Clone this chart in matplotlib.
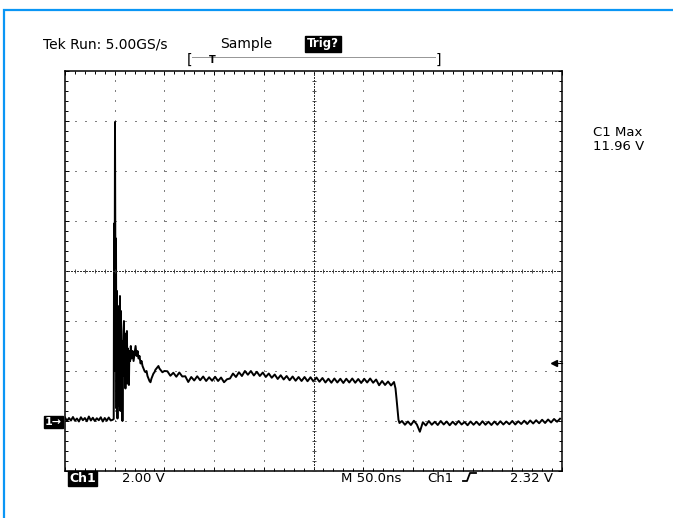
import matplotlib
matplotlib.use("Agg")
import matplotlib.pyplot as plt
import matplotlib.patches as mpatches
from matplotlib.lines import Line2D
from matplotlib.ticker import MultipleLocator
import matplotlib.transforms as mtrans

# scope settings
ns_per_div = 50.0
volts_per_div = 2.00
trig_level = 2.32
c1_max = 11.96

# trace (time in ns, volts)
t_pre = [0, 2, 4, 6, 8, 10, 12, 14, 16, 18, 20, 22, 24, 26, 28, 30, 32, 34, 36, 38, 40, 42, 44, 46, 48]
v_pre = [0.14, 0.00, 0.12, 0.02, 0.16, 0.01, 0.10, -0.02, 0.15, 0.03, 0.12, -0.01, 0.18,
         0.02, 0.13, 0.00, 0.11, 0.03, 0.15, -0.02, 0.12, 0.01, 0.14, 0.02, 0.05]

t_ring = [49.0, 49.4, 49.8, 50.3, 50.8, 51.3, 51.8, 52.3, 52.8, 53.3, 53.8, 54.3, 54.8, 55.3,
          55.8, 56.3, 56.8, 57.3, 57.8, 58.3, 58.8, 59.3, 59.8, 60.3, 60.8, 61.3, 61.8, 62.3,
          62.8, 63.3, 63.8, 64.3, 64.8, 65.5, 66.2, 67.0, 68, 69, 70, 71, 72, 73, 74, 75, 76,
          77, 78, 79, 80, 81, 82, 83, 84, 85, 86, 87, 88, 89, 90, 91, 92, 93, 94, 95, 96, 98, 100]
v_ring = [0.08, 7.9, 2.0, 11.96, 4.5, 7.3, 0.5, 5.2, 0.1, 4.6, 0.6, 4.0, 1.0, 5.0,
          0.4, 4.4, 1.2, 3.2, 0.0, 2.6, 3.6, 4.0, 1.8, 3.2, 1.3, 3.5, 2.0, 3.6,
          1.5, 2.9, 1.8, 1.44, 2.8, 2.4, 3.0, 2.5, 2.8, 2.4, 2.7, 3.0, 2.6, 2.8, 2.5, 2.6, 2.3,
          2.4, 2.2, 2.1, 2.0, 1.95, 2.0, 1.8, 1.7, 1.6, 1.55, 1.7, 1.8, 1.9, 1.95, 2.05, 2.1, 2.15, 2.2, 2.1, 2.05, 1.95, 2.0]

t_plat = [103, 106, 109, 112, 115, 118, 121, 124, 127, 130, 133, 136, 139, 142, 145, 148,
          151, 154, 157, 160, 163, 166, 169, 172, 175, 178, 181, 184, 187, 190, 193, 196,
          199, 202, 205, 208, 211, 214, 217, 220, 223, 226, 229, 232, 235, 238, 241, 244,
          247, 250, 253, 256, 259, 262, 265, 268, 271, 274, 277, 280, 283, 286, 289, 292,
          295, 298, 301, 304, 307, 310, 313, 316, 319, 322, 325, 328, 331]
v_plat = [1.99, 1.81, 1.93, 1.77, 1.94, 1.78, 1.79, 1.56, 1.76, 1.62, 1.79, 1.63, 1.78, 1.60, 1.75, 1.61,
          1.77, 1.60, 1.74, 1.55, 1.67, 1.70, 1.90, 1.76, 1.95, 1.80, 2.00, 1.85, 2.00, 1.82, 1.97, 1.80,
          1.94, 1.76, 1.90, 1.73, 1.86, 1.68, 1.83, 1.66, 1.80, 1.63, 1.78, 1.61, 1.76, 1.60, 1.76, 1.59,
          1.75, 1.58, 1.74, 1.57, 1.72, 1.54, 1.69, 1.53, 1.70, 1.54, 1.69, 1.52, 1.69, 1.54, 1.70, 1.53,
          1.68, 1.52, 1.69, 1.54, 1.70, 1.53, 1.66, 1.43, 1.60, 1.44, 1.58, 1.42, 1.56]

t_fall = [332.5, 333.5, 334.5, 335.5, 336.5]
v_fall = [1.30, 0.90, 0.45, 0.05, -0.08]

t_post = [339, 342, 345, 348, 351, 354, 357, 360, 363, 366, 369, 372, 375, 378,
          381, 384, 387, 390, 393, 396, 399, 402, 405, 408, 411, 414, 417, 420,
          423, 426, 429, 432, 435, 438, 441, 444, 447, 450, 453, 456, 459, 462,
          465, 468, 471, 474, 477, 480, 483, 486, 489, 492, 495, 498]
v_post = [0.00, -0.15, -0.02, -0.16, 0.01, -0.14, -0.43, -0.05, -0.18, 0.00, -0.15, -0.03, -0.16, 0.00,
          -0.14, -0.02, -0.17, -0.03, -0.15, 0.00, -0.14, -0.04, -0.17, -0.02, -0.15, -0.03, -0.16, -0.01,
          -0.15, -0.03, -0.16, -0.02, -0.15, -0.01, -0.14, -0.02, -0.13, 0.00, -0.14, -0.01, -0.12, 0.01,
          -0.12, 0.02, -0.10, 0.03, -0.09, 0.05, -0.08, 0.06, -0.06, 0.08, -0.03, 0.09]

t_all = t_pre + t_ring + t_plat + t_fall + t_post
v_all = v_pre + v_ring + v_plat + v_fall + v_post

W, H = 673, 518
def fx(px):
    return px / W
def fy(py):
    return 1 - py / H

fig = plt.figure(figsize=(W / 100, H / 100), dpi=100)
plt.rcParams['font.family'] = 'DejaVu Sans'

# blue page frame
frame = mpatches.Rectangle((fx(4), -0.1), 1.2, fy(10) + 0.1, transform=fig.transFigure,
                           fill=False, edgecolor='#0a96f5', linewidth=1.6)
fig.add_artist(frame)

rect = [fx(65), fy(471), fx(562) - fx(65), fy(71) - fy(471)]
ax = fig.add_axes(rect)
ax.set_xlim(0, 10 * ns_per_div)
ax.set_ylim(-1 * volts_per_div, 7 * volts_per_div)

# dotted graticule
for k in range(1, 10):
    if k != 5:
        ax.axvline(k * ns_per_div, color='black', linestyle=(0, (1, 9)), linewidth=0.72)
for k in range(0, 7):
    if k != 3:
        ax.axhline(k * volts_per_div, color='black', linestyle=(0, (1, 9)), linewidth=0.72)

# border with ticks
for s in ax.spines.values():
    s.set_linewidth(1.1)
ax.xaxis.set_major_locator(MultipleLocator(ns_per_div))
ax.xaxis.set_minor_locator(MultipleLocator(ns_per_div / 5))
ax.yaxis.set_major_locator(MultipleLocator(volts_per_div))
ax.yaxis.set_minor_locator(MultipleLocator(volts_per_div / 5))
ax.tick_params(which='both', direction='in', top=True, right=True,
               labelbottom=False, labelleft=False, width=0.7)
ax.tick_params(which='major', length=3.2)
ax.tick_params(which='minor', length=2.0)

# center crosshair
ax2 = fig.add_axes(rect)
ax2.set_xlim(ax.get_xlim())
ax2.set_ylim(ax.get_ylim())
ax2.patch.set_visible(False)
ax2.spines['top'].set_visible(False)
ax2.spines['right'].set_visible(False)
for side in ['left', 'bottom']:
    ax2.spines[side].set_position(('axes', 0.5))
    ax2.spines[side].set_linestyle((0, (1, 2)))
    ax2.spines[side].set_linewidth(0.72)
    ax2.spines[side].set_color('0.2')
ax2.xaxis.set_major_locator(MultipleLocator(ns_per_div / 5))
ax2.yaxis.set_major_locator(MultipleLocator(volts_per_div / 5))
ax2.tick_params(direction='inout', length=3.5, width=0.6, color='0.2',
                labelbottom=False, labelleft=False)

# trace
ax.plot(t_all, v_all, color='black', linewidth=1.4, zorder=5)

# trigger level marker on the right edge
tr = mtrans.blended_transform_factory(ax.transAxes, ax.transData)
ax.plot([0.986, 1.0], [trig_level, trig_level], color='black', lw=0.8, transform=tr, clip_on=False)
ax.plot([0.984], [trig_level], marker='<', color='black', markersize=5, transform=tr, clip_on=False)

# header
fig.text(fx(43), fy(48), 'Tek Run: 5.00GS/s', fontsize=10, va='baseline')
fig.text(fx(220), fy(48), 'Sample', fontsize=10, va='baseline')
fig.text(fx(307), fy(47.5), 'Trig?', fontsize=8.5, fontweight='bold', color='white', va='baseline',
         bbox=dict(boxstyle='square,pad=0.15', facecolor='black', edgecolor='black'))
fig.text(fx(187), fy(64), '[', fontsize=10, va='baseline')
fig.text(fx(436), fy(64), ']', fontsize=10, va='baseline')
fig.add_artist(Line2D([fx(192), fx(436)], [fy(57), fy(57)], transform=fig.transFigure,
                      color='0.2', linestyle=(0, (1, 1)), linewidth=0.72))
fig.text(fx(212), fy(63), 'T', fontsize=7, fontweight='bold', ha='center', va='baseline')

# ground marker
fig.text(fx(45), fy(425), '1\u2192', fontsize=8, fontweight='bold', color='white', va='baseline',
         bbox=dict(boxstyle='square,pad=0.1', facecolor='black', edgecolor='black'))

# measurement readout
fig.text(fx(593), fy(136), 'C1 Max', fontsize=9.5, va='baseline')
fig.text(fx(593), fy(150), '%.2f V' % c1_max, fontsize=9.5, va='baseline')

# bottom readout
fig.text(fx(69), fy(482), 'Ch1', fontsize=9, fontweight='bold', color='white', va='baseline',
         bbox=dict(boxstyle='square,pad=0.1', facecolor='black', edgecolor='black'))
fig.text(fx(122), fy(482), '%.2f V' % volts_per_div, fontsize=9.5, va='baseline')
fig.text(fx(341), fy(482), 'M %.1fns' % ns_per_div, fontsize=9.5, va='baseline')
fig.text(fx(427), fy(482), 'Ch1', fontsize=9.5, va='baseline')
fig.add_artist(Line2D([fx(463), fx(467), fx(470), fx(476)], [fy(481), fy(481), fy(473), fy(473)],
                      transform=fig.transFigure, color='black', linewidth=1.3))
fig.text(fx(510), fy(482), '%.2f V' % trig_level, fontsize=9.5, va='baseline')

fig.savefig('out.png', dpi=100)
